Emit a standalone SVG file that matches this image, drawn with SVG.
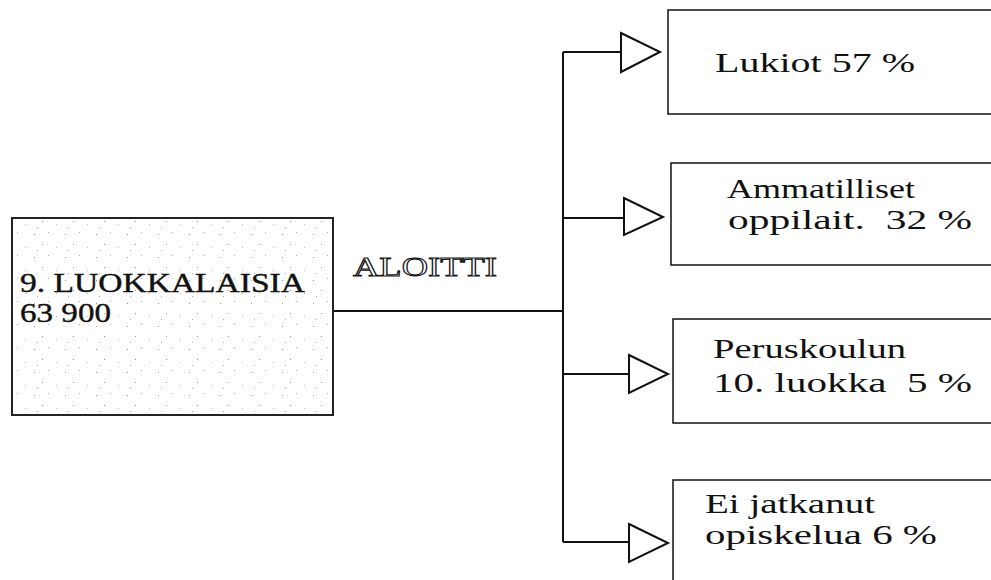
<svg xmlns="http://www.w3.org/2000/svg" width="991" height="580" viewBox="0 0 991 580">
<style>
.box{fill:#fff;stroke:#111;stroke-width:1.5}
.t{font-family:"Liberation Serif","DejaVu Serif",serif;fill:#111}
.r{font-size:27px}
.con{fill:none;stroke:#111;stroke-width:2}
.tri{fill:#fff;stroke:#111;stroke-width:2;stroke-linejoin:miter}
</style>
<defs>
<pattern id="speck" width="31" height="23" patternUnits="userSpaceOnUse">
<rect width="31" height="23" fill="#fff"/>
<rect x="3" y="4" width="1" height="1" fill="#999"/>
<rect x="17" y="2" width="1" height="1" fill="#aaa"/>
<rect x="11" y="14" width="1" height="1" fill="#999"/>
<rect x="25" y="17" width="1" height="1" fill="#bbb"/>
<rect x="6" y="20" width="1" height="1" fill="#aaa"/>
</pattern>
</defs>
<g id="connectors">
<polyline class="con" points="334,311 563,311"/>
<polyline class="con" points="563,52 563,542"/>
<polyline class="con" points="563,52 621,52"/>
<polyline class="con" points="563,218 624,218"/>
<polyline class="con" points="563,374 629,374"/>
<polyline class="con" points="563,542 629,542"/>
<polygon class="tri" points="621,33 660,52 621,72"/>
<polygon class="tri" points="624,198 663,217 624,235"/>
<polygon class="tri" points="629,355 668,374 629,393"/>
<polygon class="tri" points="629,524 668,543 629,562"/>
<text x="353" y="276" font-family="Liberation Serif,serif" font-size="27" fill="#fff" stroke="#111" stroke-width="1" textLength="144" lengthAdjust="spacingAndGlyphs">ALOITTI</text>
</g>
<g id="start">
<rect x="12" y="218" width="321" height="197" fill="url(#speck)" stroke="#222" stroke-width="2"/>
<text class="t" font-size="27" stroke="#111" stroke-width="0.4"><tspan x="20" y="292" textLength="285" lengthAdjust="spacingAndGlyphs">9. LUOKKALAISIA</tspan><tspan x="20" y="322" textLength="91" lengthAdjust="spacingAndGlyphs">63 900</tspan></text>
</g>
<g id="lukiot">
<rect class="box" x="668" y="10" width="330" height="104"/>
<text class="t r" x="715" y="72" textLength="200" lengthAdjust="spacingAndGlyphs">Lukiot 57 %</text>
</g>
<g id="ammatilliset">
<rect class="box" x="671" y="163" width="330" height="102"/>
<text class="t r"><tspan x="727" y="198" textLength="188" lengthAdjust="spacingAndGlyphs">Ammatilliset</tspan><tspan x="728" y="229" textLength="244" lengthAdjust="spacingAndGlyphs" xml:space="preserve">oppilait.  32 %</tspan></text>
</g>
<g id="peruskoulun">
<rect class="box" x="673" y="319" width="330" height="104"/>
<text class="t r"><tspan x="713" y="358" textLength="193" lengthAdjust="spacingAndGlyphs">Peruskoulun</tspan><tspan x="713" y="392" textLength="259" lengthAdjust="spacingAndGlyphs" xml:space="preserve">10. luokka  5 %</tspan></text>
</g>
<g id="ei">
<rect class="box" x="673" y="480" width="330" height="120"/>
<text class="t r"><tspan x="705" y="513" textLength="170" lengthAdjust="spacingAndGlyphs">Ei jatkanut</tspan><tspan x="705" y="544" textLength="232" lengthAdjust="spacingAndGlyphs">opiskelua 6 %</tspan></text>
</g>
</svg>
